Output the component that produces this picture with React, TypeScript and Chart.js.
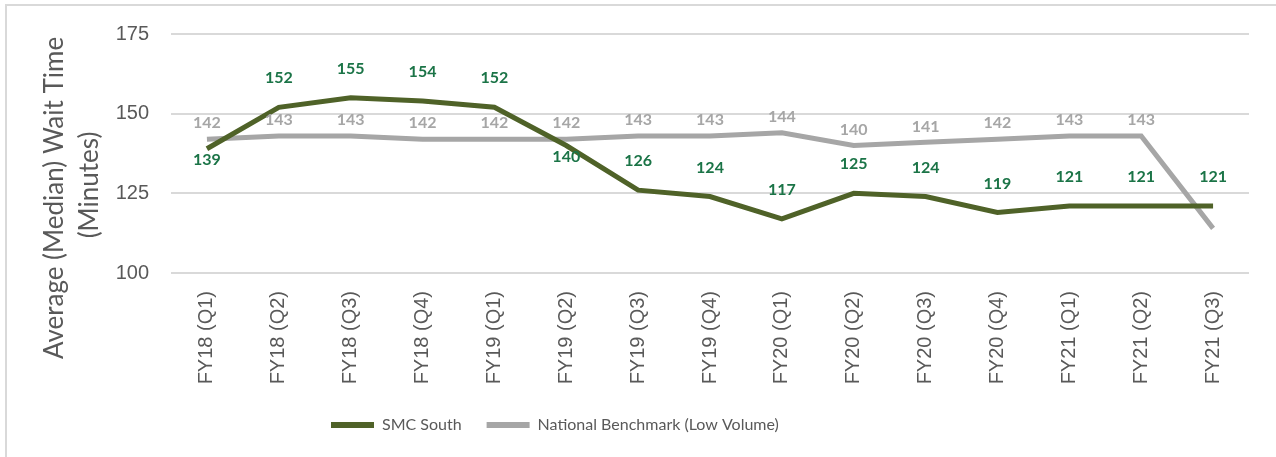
import React, { useEffect, useRef } from "react";
import { Chart, registerables } from "chart.js";

Chart.register(...registerables);

const categories = [
  "FY18 (Q1)", "FY18 (Q2)", "FY18 (Q3)", "FY18 (Q4)", "FY19 (Q1)",
  "FY19 (Q2)", "FY19 (Q3)", "FY19 (Q4)", "FY20 (Q1)", "FY20 (Q2)",
  "FY20 (Q3)", "FY20 (Q4)", "FY21 (Q1)", "FY21 (Q2)", "FY21 (Q3)",
];
const smcSouth = [139, 152, 155, 154, 152, 140, 126, 124, 117, 125, 124, 119, 121, 121, 121];
const nationalBenchmark = [142, 143, 143, 142, 142, 142, 143, 143, 144, 140, 141, 142, 143, 143, 114];
// which labels are shown, and where (style only)
const smcLabelSide = ["below", "above", "above", "above", "above", "below", "above", "above", "above", "above", "above", "above", "above", "above", "above"];
const benchLabelShown = [true, true, true, true, true, true, true, true, true, true, true, true, true, true, false];
const yTicks = [100, 125, 150, 175];
const yTitleLines = ["Average (Median) Wait Time", "(Minutes)"];

const FONT = "Lato, 'Open Sans', sans-serif";
const AXFONT = "'Liberation Sans', Arial, sans-serif";
const GREEN = "#4F6228";
const GREY = "#A6A6A6";
const GREEN_LABEL = "#1B7447";
const TEXT = "#595959";

const labelPlugin = {
  id: "valueLabels",
  afterDatasetsDraw(chart: any) {
    const ctx = chart.ctx;
    ctx.save();
    ctx.textAlign = "center";
    ctx.textBaseline = "middle";
    ctx.font = `bold 16px ${FONT}`;
    const m1 = chart.getDatasetMeta(1);
    m1.data.forEach((pt: any, i: number) => {
      if (!benchLabelShown[i]) return;
      ctx.fillStyle = GREY;
      ctx.fillText(String(nationalBenchmark[i]), pt.x, pt.y - 16);
    });
    const m0 = chart.getDatasetMeta(0);
    m0.data.forEach((pt: any, i: number) => {
      ctx.fillStyle = GREEN_LABEL;
      const dy = smcLabelSide[i] === "below" ? 11 : -29;
      ctx.fillText(String(smcSouth[i]), pt.x, pt.y + dy);
    });
    ctx.restore();
  },
};

const yTitlePlugin = {
  id: "yTitle",
  afterDraw(chart: any) {
    const ctx = chart.ctx;
    const centers = [[55, 198], [90, 185]];
    ctx.save();
    ctx.fillStyle = TEXT;
    ctx.font = `26px ${FONT}`;
    ctx.textAlign = "center";
    ctx.textBaseline = "middle";
    yTitleLines.forEach((t, i) => {
      ctx.save();
      ctx.translate(centers[i][0], centers[i][1]);
      ctx.rotate(-Math.PI / 2);
      ctx.fillText(t, 0, 0);
      ctx.restore();
    });
    ctx.restore();
  },
};

const legendPlace = {
  id: "legendPlace",
  afterLayout(chart: any) {
    const lg = chart.legend;
    if (!lg) return;
    const w = lg.width;
    lg.left = 331 - 25;
    lg.right = lg.left + w;
  },
};

export default function App() {
  const ref = useRef<HTMLCanvasElement | null>(null);
  useEffect(() => {
    document.body.style.margin = "0";
    const chart = new Chart(ref.current as HTMLCanvasElement, {
      type: "line",
      data: {
        labels: categories,
        datasets: [
          {
            label: "SMC South",
            data: smcSouth,
            borderColor: GREEN,
            backgroundColor: GREEN,
            borderWidth: 5,
            pointRadius: 0,
            tension: 0,
          },
          {
            label: "National Benchmark (Low Volume)",
            data: nationalBenchmark,
            borderColor: GREY,
            backgroundColor: GREY,
            borderWidth: 5,
            pointRadius: 0,
            tension: 0,
          },
        ],
      },
      options: {
        animation: false,
        responsive: false,
        layout: { padding: { left: 0, right: 27, top: 33, bottom: 14 } },
        plugins: {
          tooltip: { enabled: false },
          legend: {
            position: "bottom",
            align: "start",
            labels: {
              color: TEXT,
              font: { family: FONT, size: 16 },
              boxWidth: 43,
              boxHeight: 6,
              padding: 25,
              generateLabels: (c: any) =>
                c.data.datasets.map((d: any, i: number) => ({
                  text: d.label,
                  fillStyle: d.borderColor,
                  strokeStyle: d.borderColor,
                  lineWidth: 0,
                  fontColor: TEXT,
                  datasetIndex: i,
                  hidden: false,
                })),
            },
          },
        },
        scales: {
          x: {
            offset: true,
            grid: { display: false, drawTicks: false },
            border: { display: false },
            ticks: {
              color: TEXT,
              font: { family: AXFONT, size: 20 },
              minRotation: 90,
              maxRotation: 90,
              autoSkip: false,
              padding: 18,
            },
            afterFit: (s: any) => {
              s.height = 119;
            },
          },
          y: {
            min: 100,
            max: 175,
            afterBuildTicks: (s: any) => {
              s.ticks = yTicks.map((v) => ({ value: v }));
            },
            grid: { color: "#D9D9D9", lineWidth: 2, drawTicks: false },
            border: { display: false },
            ticks: {
              color: TEXT,
              font: { family: AXFONT, size: 20 },
              padding: 22,
            },
            title: { display: false },
            afterFit: (s: any) => {
              s.width = 171;
            },
          },
        },
      },
      plugins: [labelPlugin, yTitlePlugin, legendPlace],
    });
    return () => chart.destroy();
  }, []);
  return (
    <div style={{ position: "fixed", left: 0, top: 0, width: 1276, height: 457, background: "#fff" }}>
      <div
        style={{
          position: "absolute",
          left: 5,
          top: 4,
          right: 0,
          bottom: 0,
          borderTop: "2px solid #D9D9D9",
          borderLeft: "2px solid #D9D9D9",
        }}
      />
      <canvas ref={ref} width={1276} height={457} style={{ position: "absolute", left: 0, top: 0 }} />
    </div>
  );
}
